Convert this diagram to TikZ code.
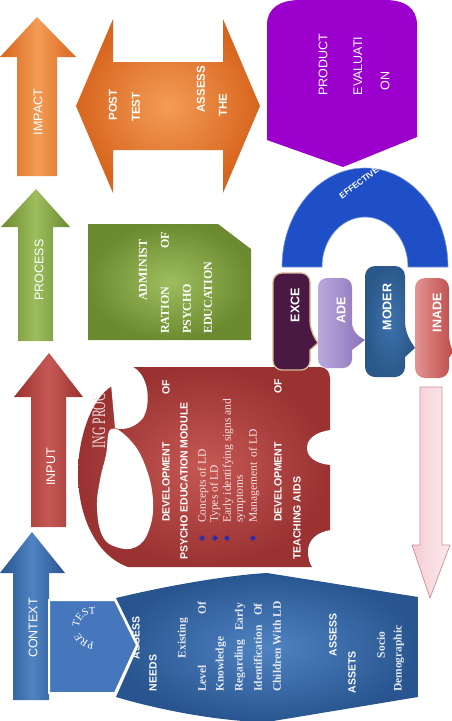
\documentclass[tikz,border=0pt]{standalone}
\usepackage{fontspec}
\setmainfont{Liberation Serif}
\setsansfont{Liberation Sans}
\usetikzlibrary{calc}

\definecolor{orDark}{HTML}{D8651E}
\definecolor{orLight}{HTML}{F39C55}
\definecolor{grDark}{HTML}{6C8B30}
\definecolor{grLight}{HTML}{9DBD5E}
\definecolor{rdDark}{HTML}{993231}
\definecolor{rdLight}{HTML}{C65853}
\definecolor{blDark}{HTML}{28558F}
\definecolor{blLight}{HTML}{5083C2}
\definecolor{preBlue}{HTML}{4677BD}
\definecolor{prodPurple}{HTML}{9B00CC}
\definecolor{archBlue}{HTML}{1E4FC6}
\definecolor{plum}{HTML}{4A1943}
\definecolor{tanEdge}{HTML}{D9B996}
\definecolor{adeLight}{HTML}{BAA9DB}
\definecolor{adeDark}{HTML}{8B71B9}
\definecolor{modLight}{HTML}{3E72AD}
\definecolor{modDark}{HTML}{2A5889}
\definecolor{inLight}{HTML}{E39593}
\definecolor{inDark}{HTML}{BE4B48}
\definecolor{pinkFill}{HTML}{F4CDD3}
\definecolor{pinkEdge}{HTML}{D58A95}
\definecolor{textGray}{HTML}{E4E8F0}
\definecolor{textPink}{HTML}{F6E4E4}
\definecolor{bulletBlue}{HTML}{2E2EA8}

\begin{document}
\begin{tikzpicture}[x=1pt,y=-1pt,
  lbl/.style={text=white, rotate=90, inner sep=0pt, font=\sffamily\fontsize{12.5}{13}\selectfont},
  hdr/.style={text=white, rotate=90, inner sep=0pt, font=\sffamily\bfseries\fontsize{10.5}{11}\selectfont},
  bub/.style={text=white, rotate=90, inner sep=0pt, font=\sffamily\bfseries\fontsize{12.5}{13}\selectfont},
  srfb/.style={text=textGray, rotate=90, inner sep=0pt, font=\rmfamily\bfseries\fontsize{11.5}{12}\selectfont},
  admtxt/.style={text=white, rotate=90, inner sep=0pt, font=\rmfamily\bfseries\fontsize{12}{12}\selectfont},
  srf/.style={text=textPink, rotate=90, inner sep=0pt, font=\rmfamily\fontsize{11.5}{12}\selectfont},
  arrtxt/.style={text=white, rotate=90, inner sep=0pt, font=\sffamily\bfseries\fontsize{11.5}{12}\selectfont},
  vshade/.style 2 args={left color=#1, right color=#1, middle color=#2},
  bulletmark/.style={fill=bulletBlue},
]
\useasboundingbox (0,0) rectangle (452,721);

% ---------- left column of upward arrows ----------
\path[vshade={orDark}{orLight}] (17,176) -- (17,57) -- (0,57) -- (37,17) -- (76,57) -- (57,57) -- (57,176) -- cycle;
\node[lbl] (impact) at (38,112) {IMPACT};

\path[vshade={grDark}{grLight}] (18,341) -- (18,227) -- (1,227) -- (36,189) -- (70,227) -- (53,227) -- (53,341) -- cycle;
\node[lbl] (process) at (39,270) {PROCESS};

\path[vshade={rdDark}{rdLight}] (31,527) -- (31,397) -- (14,397) -- (49,353) -- (83,397) -- (66,397) -- (66,527) -- cycle;
\node[lbl] (input) at (51,467) {INPUT};

\path[vshade={blDark}{blLight}] (13,700) -- (13,573) -- (0,573) -- (32,532) -- (65,573) -- (49,573) -- (49,700) -- cycle;
\node[lbl] (context) at (33,628) {CONTEXT};

% ---------- post test double arrow ----------
\path[inner color=orLight, outer color=orDark] (76,106) -- (113,19) -- (113,62) -- (223,62) -- (223,19) -- (260,106) -- (223,193) -- (223,150) -- (113,150) -- (113,193) -- cycle;
\node[arrtxt] (post) at (113,105) {POST};
\node[arrtxt] (test) at (136,107) {TEST};
\node[arrtxt] (assess3) at (201,89) {ASSESS};
\node[arrtxt] (the) at (223,105) {THE};

% ---------- effectiveness arch ----------
\path[fill=archBlue, draw=archBlue!60!white, line width=0.6pt]
  (282,267) arc[start angle=180, end angle=360, x radius=83, y radius=99]
  -- (408,267) arc[start angle=360, end angle=180, x radius=43, y radius=50] -- cycle;
\node[text=white, inner sep=0pt, rotate=37, font=\sffamily\bfseries\fontsize{8.5}{9}\selectfont] (effective) at (359,183) {EFFECTIVE};

% ---------- product evaluation ----------
\path[fill=prodPurple] (267,140) -- (267,25) .. controls (267,8) and (280,0) .. (300,0) -- (385,0)
  .. controls (405,0) and (417,8) .. (417,25) -- (417,137) -- (343,167) -- cycle;
\node[lbl] (prod1) at (323,65) {PRODUCT};
\node[lbl] (prod2) at (358,66) {EVALUATI};
\node[lbl] (prod3) at (385,81) {ON};

% ---------- administration box ----------
\path[inner color=grLight, outer color=grDark] (88,224) -- (218,224) -- (251,249) -- (251,340) -- (88,340) -- cycle;
\node[admtxt] (adm1) at (143,270) {ADMINIST};
\node[admtxt] (adm2) at (165,240) {OF};
\node[admtxt, anchor=west] (adm3) at (165,334) {RATION};
\node[admtxt, anchor=west] (adm4) at (187,334) {PSYCHO};
\node[admtxt, anchor=west] (adm5) at (208,334) {EDUCATION};

% ---------- teaching process mug ----------
\path[inner color=rdLight, outer color=rdDark]
  (112,386) .. controls (90,400) and (78,440) .. (78,473)
  .. controls (78,515) and (95,555) .. (128,567) -- (320,567)
  .. controls (326,567) and (330,563) .. (330,557) -- (330,378)
  .. controls (330,372) and (326,367) .. (320,367) -- (133,367) -- cycle;
% open space between handle and cup, the hole of the handle, and the notches of the base
\fill[white] (111,384) -- (131,366) .. controls (150,374) and (151,405) .. (143,418)
  .. controls (136,427) and (124,431) .. (115,428) -- cycle;
\fill[white] plot[smooth cycle, tension=0.7] coordinates {(111,429) (130,440) (145,465) (153,500) (149,530) (136,547) (116,547) (102,535) (97,507) (100,480) (106,455)};
\fill[white] (331,430) .. controls (314,432) and (307,440) .. (307,448)
  .. controls (307,457) and (316,464) .. (331,465) -- cycle;
\fill[white] (331,530) .. controls (316,532) and (308,541) .. (308,551)
  .. controls (308,559) and (310,565) .. (313,568) -- (331,568) -- cycle;
\node[text=textPink, rotate=90, inner sep=0pt, font=\rmfamily\fontsize{19}{19}\selectfont] (ingproc) at (99,421) {\scalebox{0.62}[1]{ING PROC}};

\node[hdr] (dev1) at (166,482) {DEVELOPMENT};
\node[hdr] (dev1of) at (166,387) {OF};
\node[hdr, anchor=west] (module) at (184,560) {PSYCHO EDUCATION MODULE};
\node[srf, anchor=west] (b1) at (203,523) {Concepts of LD};
\node[srf, anchor=west] (b2) at (215,523) {Types of LD};
\node[srf, anchor=west] (b3) at (228,523) {Early identifying signs and};
\node[srf, anchor=west] (b3b) at (241,523) {symptoms};
\node[srf, anchor=west] (b4) at (254,523) {Management\ \ of LD};
\foreach \bx in {202,215,227,253}
  \fill[bulletmark] (\bx-3,538) -- (\bx,535) -- (\bx+3,538) -- (\bx,541) -- cycle;
\node[hdr] (dev2) at (278,482) {DEVELOPMENT};
\node[hdr] (dev2of) at (278,386) {OF};
\node[hdr, anchor=west] (aids) at (297,560) {TEACHING AIDS};

% ---------- rating call-outs ----------
\path[fill=plum, draw=tanEdge, line width=1.3pt, rounded corners=9]
  (273,273) -- (310,273) -- (310,330) [sharp corners] -- (318,343) -- (310,350) [rounded corners=9] -- (310,370) -- (273,370) -- cycle;
\node[bub] (exce) at (295,305) {EXCE};

\path[left color=adeLight, right color=adeDark, rounded corners=9]
  (318,278) -- (352,278) -- (352,332) [sharp corners] -- (365,340) -- (352,350) [rounded corners=9] -- (352,368) -- (318,368) -- cycle;
\node[bub] (ade) at (341,310) {ADE};

\path[inner color=modLight, outer color=modDark, rounded corners=10]
  (365,266) -- (405,266) -- (405,332) [sharp corners] -- (415,348) -- (405,357) [rounded corners=10] -- (405,377) -- (365,377) -- cycle;
\node[bub] (moder) at (387,307) {MODER};

\path[left color=inLight, right color=inDark, rounded corners=10]
  (415,278) -- (449,278) -- (449,345) [sharp corners] -- (453,352) -- (449,358) [rounded corners=10] -- (449,378) -- (415,378) -- cycle;
\node[bub] (inade) at (437,313) {INADE};

% ---------- downward arrow ----------
\path[left color=pinkFill, right color=pinkFill!40!white, draw=pinkEdge, line width=0.7pt]
  (420,387) -- (442,387) -- (442,545) -- (450,545) -- (430,598) -- (412,545) -- (420,545) -- cycle;

% ---------- needs and assets block ----------
\path[inner color=blLight, outer color=blDark]
  (116,598) .. controls (170,585) and (230,575) .. (267,573) -- (418,597) -- (418,697)
  -- (267,722) .. controls (230,722) and (170,713) .. (116,697) -- (139,645) -- cycle;
\node[hdr] (assess1) at (136,638) {ASSESS};
\node[hdr] (needs) at (153,673) {NEEDS};
\node[srfb] (n1) at (183,638) {Existing};
\node[srfb, anchor=west] (n2) at (202,692) {Level};
\node[srfb] (n2of) at (202,608) {Of};
\node[srfb, anchor=west] (n3) at (221,692) {Knowledge};
\node[srfb, anchor=west] (n4) at (240,692) {Regarding};
\node[srfb, anchor=east] (n4b) at (240,603) {Early};
\node[srfb, anchor=west] (n5) at (258,692) {Identification};
\node[srfb, anchor=east] (n5b) at (258,603) {Of};
\node[srfb, anchor=west] (n6) at (277,692) {Children With LD};
\node[hdr] (assess2) at (333,635) {ASSESS};
\node[hdr] (assets) at (352,672) {ASSETS};
\node[srfb] (socio) at (381,645) {Socio};
\node[srfb, anchor=west] (demo) at (399,692) {Demographic};

% ---------- pre test chevron ----------
\path[fill=preBlue, draw=white, line width=2pt] (49,600) -- (115,600) -- (137,645) -- (115,693) -- (49,693) -- cycle;
\foreach \ch/\a [count=\i] in {P/262,R/238,E/212,T/165,E/141,S/117,T/93}
  \node[text=white, inner sep=0pt, rotate=\a-90, font=\rmfamily\fontsize{10.5}{11}\selectfont] (pre\i) at ($(93,628)+(-\a:17.5)$) {\ch};

\end{tikzpicture}
\end{document}
